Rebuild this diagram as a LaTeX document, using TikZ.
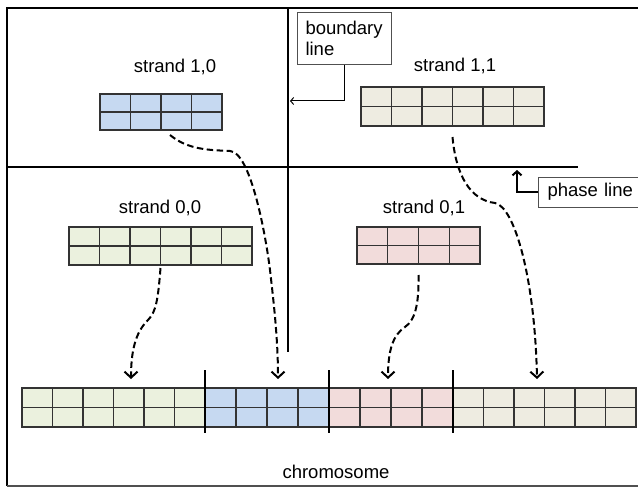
\documentclass[tikz,border=0pt]{standalone}
\usepackage{fontspec}
\setmainfont{Liberation Sans}
\usetikzlibrary{arrows.meta,calc}
\definecolor{fillblue}{HTML}{C6D9F1}
\definecolor{fillgreen}{HTML}{EBF1DE}
\definecolor{fillpink}{HTML}{F2DCDB}
\definecolor{filltan}{HTML}{EEECE1}
\definecolor{gridcol}{HTML}{333333}
\definecolor{boxcol}{HTML}{505050}
\tikzset{
  lab/.style={font=\fontsize{18.5}{21}\selectfont, inner sep=0pt},
  cellbox/.style={draw=gridcol, line width=1.1pt, inner sep=0pt, outer sep=0pt},
  cellline/.style={draw=gridcol, line width=1.1pt},
  heavyline/.style={line width=2.2pt, black},
  sepline/.style={line width=2.4pt, black},
  labelbox/.style={draw=boxcol, line width=1pt, lab, inner xsep=8pt, align=left},
  pointer/.style={line width=1pt, -{Straight Barb[length=3pt,width=7pt]}},
  pointerthick/.style={line width=2pt, -{Straight Barb[length=4pt,width=9pt]}},
  move/.style={line width=2pt, dash pattern=on 6.5pt off 3.5pt, -{Straight Barb[length=6pt,width=13pt]}}
}
\newcommand\cellblock[7]{%
  \node[cellbox, fill=#7, minimum width={(#4-#2)*1pt}, minimum height={(#5-#3)*1pt}, anchor=north west] (#1) at (#2,#3) {};
  \draw[cellline] (#1.west) -- (#1.east);
  \pgfmathtruncatemacro\ncmone{#6-1}
  \foreach \i in {1,...,\ncmone}
    \draw[cellline] ($(#1.north west)!\i/#6!(#1.north east)$) -- ($(#1.south west)!\i/#6!(#1.south east)$);
}
\begin{document}
\begin{tikzpicture}[x=1pt,y=-1pt]
\useasboundingbox (0,0) rectangle (638,487);
% frame
\draw[heavyline] (7,486) -- (7,8) -- (638,8);
\draw[line width=1.2pt, boxcol] (7,486) -- (638,486);
% boundary and phase lines
\draw[heavyline] (288,8) -- (288,352);
\draw[heavyline] (7,167) -- (578,167);
% strands
\cellblock{s10}{100}{94}{222}{130}{4}{fillblue}
\cellblock{s11}{361}{87}{544}{126}{6}{filltan}
\cellblock{s00}{69}{227}{252}{265}{6}{fillgreen}
\cellblock{s01}{357}{227}{480}{264}{4}{fillpink}
% chromosome
\cellblock{cgreen}{22}{388}{205}{427}{6}{fillgreen}
\cellblock{cblue}{205}{388}{329}{427}{4}{fillblue}
\cellblock{cpink}{329}{388}{453}{427}{4}{fillpink}
\cellblock{ctan}{453}{388}{636}{427}{6}{filltan}
\draw[sepline] (205,370) -- (205,433);
\draw[sepline] (329,370) -- (329,433);
\draw[sepline] (453,370) -- (453,433);
% labels
\node[lab, anchor=base] (l10) at (175,73) {strand 1,0};
\node[lab, anchor=base] (l11) at (455,72) {strand 1,1};
\node[lab, anchor=base] (l00) at (160,213) {strand 0,0};
\node[lab, anchor=base] (l01) at (424,213) {strand 0,1};
\node[lab, anchor=base] (lchr) at (336,478) {chromosome};
% boundary line callout
\node[labelbox, anchor=north west, text width=78pt, minimum height=52pt] (bbox) at (297,12) {boundary\\line};
\coordinate (bl) at (290,101);
\draw[pointer] (bbox.south) |- (bl);
% phase line callout
\node[labelbox, anchor=west, inner xsep=9pt, minimum height=30pt, text width=92pt] (pbox) at (538,192) {phase line};
\coordinate (pl) at (517,170);
\draw[pointerthick] (pbox.west) -| (pl);
% moves
\draw[move] ([xshift=9pt,yshift=-5pt]s10.south) .. controls (188,150) and (210,150) .. (230,151)
   .. controls (250,152) and (265,230) .. (270,270)
   .. controls (274,305) and (278,340) .. ([xshift=11pt,yshift=9pt]cblue.north);
\draw[move] ([yshift=-11pt]s11.south) .. controls (456,175) and (470,200) .. (495,203)
   .. controls (515,207) and (535,280) .. ([xshift=-7.5pt,yshift=9pt]ctan.north);
\draw[move] ([yshift=-3pt]s00.south) .. controls (158,300) and (156,312) .. (148,320)
   .. controls (138,330) and (131,345) .. ([xshift=17.5pt,yshift=9pt]cgreen.north);
\draw[move] ([yshift=-11pt]s01.south) .. controls (419,305) and (415,320) .. (405,327)
   .. controls (393,335) and (388,350) .. ([xshift=-3pt,yshift=9pt]cpink.north);
\end{tikzpicture}
\end{document}
